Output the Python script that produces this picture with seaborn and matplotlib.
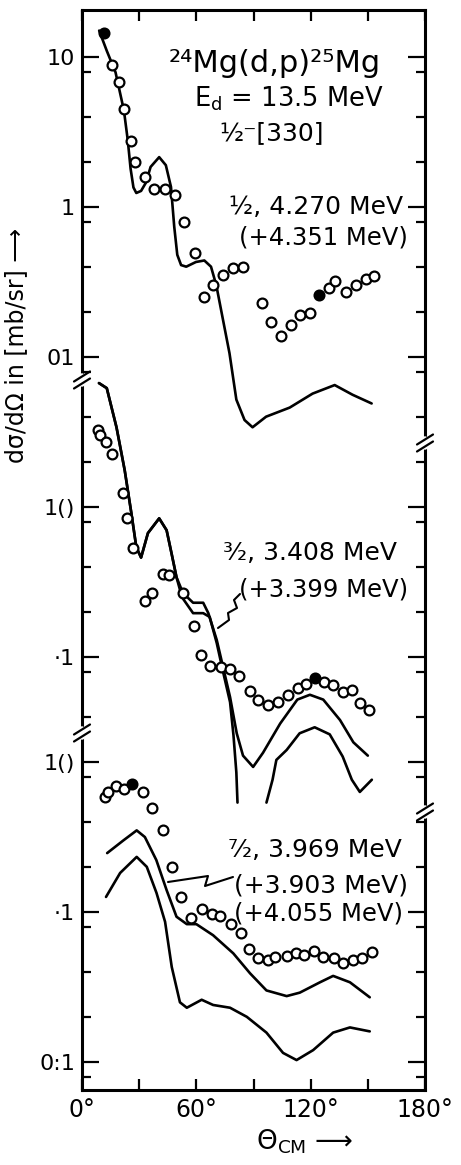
import numpy as np
import pandas as pd
import matplotlib
matplotlib.use("Agg")
import matplotlib.pyplot as plt
import seaborn as sns
from matplotlib.ticker import NullFormatter
from matplotlib.lines import Line2D

sns.set_style("ticks")
plt.rcParams['font.family'] = ['DejaVu Sans']
plt.rcParams['mathtext.fontset'] = 'dejavusans'
plt.rcParams.update({"text.color": "black", "axes.labelcolor": "black",
                     "xtick.color": "black", "ytick.color": "black", "axes.edgecolor": "black"})

# ---------------- data (values in mb/sr, each panel on its own scale) -------------
# panel offsets (decades) of the stacked display
panel_factor = [1.0, 1e-3, 10 ** -4.7]

# Panel 1 : 1/2, 4.270 MeV
p1_exp_theta = [11.6, 15.9, 19.4, 22.1, 25.6, 27.9, 33.0, 37.9, 43.5, 48.9, 53.7, 59.5, 64.2, 68.6, 73.9,
                79.1, 84.4, 94.6, 99.3, 104.2, 109.5, 114.2, 119.5, 124.4, 129.5, 133.0, 138.7, 144.0, 148.9, 153.0]
p1_exp_val = [14.5, 8.8, 6.8, 4.5, 2.76, 2.0, 1.58, 1.32, 1.32, 1.2, 0.80, 0.49, 0.25, 0.30, 0.35,
              0.39, 0.40, 0.23, 0.17, 0.138, 0.163, 0.19, 0.196, 0.26, 0.29, 0.32, 0.27, 0.30, 0.33, 0.345]
p1_filled = [0, 23]
p1_th_theta = [9, 13, 17.6, 22, 24.0, 25.5, 27.0, 28.5, 31.0, 33.5, 36, 40.5, 44, 46.7, 48.4, 50, 52.0,
               54.7, 59.8, 64.2, 67.7, 70.5, 73.7, 77.4, 81, 85.3, 89.5, 96.6, 109, 121, 132.6, 142, 152]
p1_th_val = [15, 11, 7.9, 4.4, 2.8, 1.8, 1.35, 1.24, 1.28, 1.45, 1.85, 2.15, 1.9, 1.36, 0.74, 0.48, 0.41,
             0.40, 0.43, 0.44, 0.40, 0.30, 0.185, 0.106, 0.052, 0.038, 0.034, 0.040, 0.046, 0.057, 0.065,
             0.056, 0.049]

# Panel 2 : 3/2, 3.408 MeV
p2_exp_theta = [8.2, 9.4, 12.6, 15.7, 21.4, 23.6, 26.8, 33.0, 36.5, 42.5, 45.6, 52.8, 58.8, 62.4, 67.2, 73.2,
                77.7, 82.4, 88.1, 92.5, 97.8, 102.6, 108.0, 113.5, 117.6, 122.3, 127.0, 131.5, 137.0, 141.5,
                145.8, 150.6]
p2_exp_val = [32.6, 30.2, 27.1, 22.6, 12.4, 8.4, 5.3, 2.36, 2.67, 3.6, 3.5, 2.67, 1.6, 1.03, 0.87, 0.86,
              0.83, 0.75, 0.59, 0.52, 0.48, 0.50, 0.56, 0.62, 0.66, 0.72, 0.68, 0.65, 0.58, 0.60, 0.49, 0.44]
p2_filled = [25]
p2_thA_theta = [8.9, 13, 18.1, 22.4, 25.9, 28.5, 31, 34.6, 40.5, 44.4, 47, 49.6, 53, 58.3, 63.6, 66.3,
                70.7, 74, 77.7, 81.2, 84.5, 89.8, 95, 104, 113, 119.6, 126.6, 135.4, 142.4, 150]
p2_thA_val = [67, 62, 34, 17.6, 9.1, 5.4, 4.6, 6.7, 8.4, 7.0, 4.9, 3.4, 2.67, 2.3, 2.3, 1.96,
              1.3, 0.86, 0.54, 0.31, 0.22, 0.185, 0.23, 0.36, 0.52, 0.56, 0.52, 0.38, 0.27, 0.22]
p2_thB1_theta = [8.9, 13, 18.1, 22.4, 25.9, 28.5, 31, 34.6, 40.5, 44.4, 47, 49.6, 52.5, 58.3, 63.6, 67.0,
                 70.7, 74, 77.7, 79.5, 81.0, 81.6]
p2_thB1_val = [67, 62, 34, 17.6, 9.1, 5.4, 4.6, 6.7, 8.4, 7.0, 4.9, 3.4, 2.5, 1.96, 1.96, 1.85,
               1.24, 0.80, 0.50, 0.30, 0.17, 0.107]
p2_thB2_theta = [96.8, 100, 102, 107.4, 114.2, 122.1, 130, 136.8, 141.6, 145.8, 152.1]
p2_thB2_val = [0.107, 0.152, 0.206, 0.24, 0.31, 0.34, 0.305, 0.217, 0.152, 0.126, 0.152]

# Panel 3 : 7/2, 3.969 MeV
p3_exp_theta = [12.3, 13.6, 17.7, 21.9, 26.0, 32.0, 36.5, 42.3, 47.2, 52.2, 57.0, 62.8, 68.0, 72.4, 78.1,
                83.4, 87.7, 92.5, 97.8, 101.3, 107.7, 112.3, 116.5, 121.8, 126.7, 132.0, 137.0, 142.3, 147.2, 152.4]
p3_exp_val = [5.85, 6.3, 6.9, 6.6, 7.1, 6.3, 4.9, 3.5, 2.0, 1.26, 0.91, 1.05, 0.97, 0.94, 0.83,
              0.72, 0.57, 0.49, 0.48, 0.50, 0.51, 0.53, 0.52, 0.55, 0.50, 0.49, 0.46, 0.48, 0.49, 0.54]
p3_filled = [4]
p3_thA_theta = [13.2, 21.7, 28.7, 33, 39, 44.4, 49.6, 55, 60, 68.8, 79.4, 88.2, 96.8, 107.4, 114.3, 124.9,
                131.8, 140.6, 151]
p3_thA_val = [2.47, 3.0, 3.5, 3.16, 2.22, 1.4, 0.93, 0.83, 0.83, 0.70, 0.53, 0.39, 0.30, 0.275, 0.29, 0.34,
              0.375, 0.34, 0.27]
p3_thB_theta = [12.6, 20, 28.7, 34, 39.1, 43.6, 47.1, 51.4, 55, 62.8, 68.8, 77.7, 86.5, 96.8, 105.5, 112.6,
                121.3, 131.8, 140.6, 151]
p3_thB_val = [1.26, 1.82, 2.33, 2.0, 1.34, 0.86, 0.43, 0.25, 0.23, 0.26, 0.24, 0.23, 0.20, 0.157, 0.115,
              0.103, 0.12, 0.157, 0.17, 0.16]

# axis ticks per panel (panel units)
major_ticks = [[10, 1, 0.1], [10, 1], [10, 1, 0.1]]
major_labels = [["10", "1", "01"], ["1()", "·1"], ["1()", "·1", "0:1"]]
minor_ticks = [[8, 4, 2, 0.8, 0.4, 0.2, 0.08], [40, 20, 8, 4, 2, 0.8, 0.4], [8, 4, 2, 0.8, 0.4, 0.2, 0.08]]
x_major = [0, 60, 120, 180]
x_labels = ["0°", "60°", "120°", "180°"]
x_minor = [30, 90, 150]

# ---------------- build tables -------------
curves = []
def add_curve(name, th, val, p):
    for t, v in zip(th, val):
        curves.append((name, t, v * panel_factor[p]))
add_curve("p1", p1_th_theta, p1_th_val, 0)
add_curve("p2A", p2_thA_theta, p2_thA_val, 1)
add_curve("p2B1", p2_thB1_theta, p2_thB1_val, 1)
add_curve("p2B2", p2_thB2_theta, p2_thB2_val, 1)
add_curve("p3A", p3_thA_theta, p3_thA_val, 2)
add_curve("p3B", p3_thB_theta, p3_thB_val, 2)
df_th = pd.DataFrame(curves, columns=["curve", "theta", "y"])

pts = []
for p, (th, val, filled) in enumerate([(p1_exp_theta, p1_exp_val, p1_filled),
                                       (p2_exp_theta, p2_exp_val, p2_filled),
                                       (p3_exp_theta, p3_exp_val, p3_filled)]):
    for i, (t, v) in enumerate(zip(th, val)):
        pts.append((p, t, v * panel_factor[p], i in filled))
df_exp = pd.DataFrame(pts, columns=["panel", "theta", "y", "filled"])

# ---------------- figure -------------
W, H = 461, 1165
fig = plt.figure(figsize=(W / 100, H / 100), dpi=100)
AX_L, AX_R, AX_T, AX_B = 82, 425, 10, 1090
ax = fig.add_axes([AX_L / W, 1 - AX_B / H, (AX_R - AX_L) / W, (AX_B - AX_T) / H])
ax.set_yscale("log")
ax.set_xlim(0, 180)
ytop = 10 * 10 ** ((57 - AX_T) / 150)
ybot = 10 * 10 ** ((57 - AX_B) / 150)
ax.set_ylim(ybot, ytop)

def px2ax(px, py):
    return ((px - AX_L) / (AX_R - AX_L), (AX_B - py) / (AX_B - AX_T))

sns.lineplot(data=df_th, x="theta", y="y", units="curve", estimator=None, sort=False,
             color="black", lw=1.9, ax=ax, legend=False)
open_pts = df_exp[~df_exp["filled"]]
fill_pts = df_exp[df_exp["filled"]]
sns.scatterplot(data=open_pts, x="theta", y="y", marker="o", s=50, facecolor="white",
                edgecolor="black", linewidth=1.6, ax=ax, zorder=5, legend=False)
sns.scatterplot(data=fill_pts, x="theta", y="y", marker="o", s=50, facecolor="black",
                edgecolor="black", linewidth=1.6, ax=ax, zorder=6, legend=False)

# ticks
ymaj, ylab, ymin = [], [], []
for p in range(3):
    ymaj += [v * panel_factor[p] for v in major_ticks[p]]
    ylab += major_labels[p]
    ymin += [v * panel_factor[p] for v in minor_ticks[p]]
ax.set_yticks(ymaj, ylab)
ax.set_yticks(ymin, minor=True)
ax.yaxis.set_minor_formatter(NullFormatter())
ax.set_xticks(x_major, x_labels)
ax.set_xticks(x_minor, minor=True)
ax.tick_params(axis="y", which="major", direction="in", length=12, width=1.6, left=True, right=True,
               labelsize=16, pad=5, colors="black")
ax.tick_params(axis="y", which="minor", direction="in", length=6.5, width=1.6, left=True, right=True,
               colors="black")
ax.tick_params(axis="x", which="both", direction="in", length=8, width=1.6, top=True, bottom=True,
               labelsize=17, pad=6, colors="black")
for s in ax.spines.values():
    s.set_linewidth(2.2)
    s.set_color("black")

ax.set_xlabel(r"$\Theta_{\mathrm{CM}}$ ⟶", fontsize=19, color="black")
ax.xaxis.set_label_coords(*px2ax(305, 1128))
ax.set_ylabel("dσ/dΩ in [mb/sr] ⟶", fontsize=17, color="black")
ax.yaxis.set_label_coords(*px2ax(28, 345))

# texts
def txt(px, py, s, size, ha="center"):
    x, y = px2ax(px, py)
    ax.text(x, y, s, transform=ax.transAxes, fontsize=size, ha=ha, va="center", color="black")

txt(275, 63, "²⁴Mg(d,p)²⁵Mg", 22)
txt(289, 99, r"E$_{\mathregular{d}}$ = 13.5 MeV", 18.5)
txt(272, 133, "½⁻[330]", 18)
txt(403, 207, "½, 4.270 MeV", 18, "right")
txt(408, 238, "(+4.351 MeV)", 17.5, "right")
txt(397, 553, "³⁄₂, 3.408 MeV", 18, "right")
txt(408, 590, "(+3.399 MeV)", 17.5, "right")
txt(402, 850, "⁷⁄₂, 3.969 MeV", 18, "right")
txt(408, 885, "(+3.903 MeV)", 18, "right")
txt(403, 913, "(+4.055 MeV)", 17.5, "right")

# leader zigzags
def poly(pxpy, lw=1.5):
    xs, ys = zip(*[px2ax(a, b) for a, b in pxpy])
    ax.add_line(Line2D(xs, ys, transform=ax.transAxes, color="black", lw=lw, zorder=7))
poly([(240, 594), (234, 600), (237, 608), (228, 613), (229, 620), (218, 628)])
poly([(233, 877), (205, 886), (208, 876), (168, 882)])

# axis breaks
def brk(px, py):
    x0, y0 = px2ax(px, py - 4)
    x1, y1 = px2ax(px, py + 4)
    ax.add_line(Line2D([x0, x1], [y0, y1], transform=ax.transAxes, color="white", lw=4,
                       clip_on=False, zorder=8))
    for dy in (-3.5, 3.5):
        xa, ya = px2ax(px - 8, py + dy + 5)
        xb, yb = px2ax(px + 8, py + dy - 5)
        ax.add_line(Line2D([xa, xb], [ya, yb], transform=ax.transAxes, color="black", lw=1.6,
                           clip_on=False, zorder=9))
brk(AX_L, 380)
brk(AX_L, 733)
brk(AX_R, 443)
brk(AX_R, 812)

fig.savefig("out.png", dpi=100, facecolor="white")
